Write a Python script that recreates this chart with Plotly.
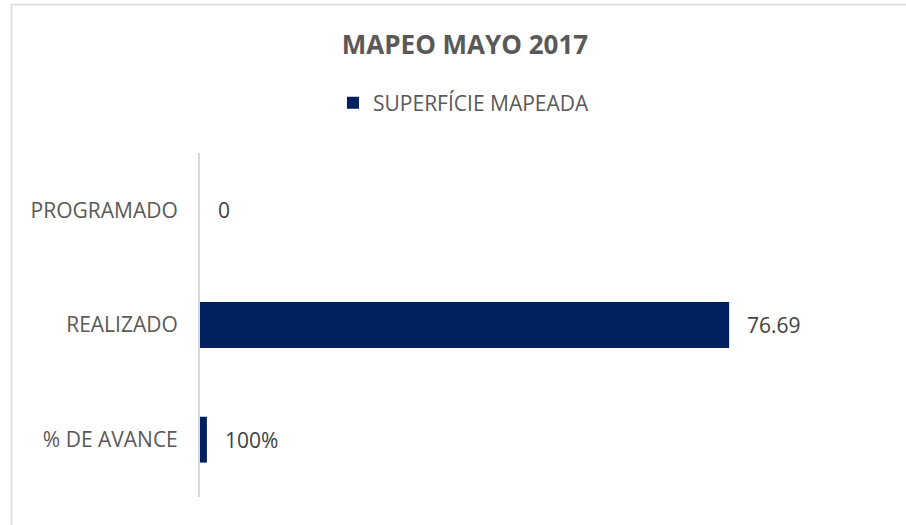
import plotly.graph_objects as go

categories = ["PROGRAMADO", "REALIZADO", "% DE AVANCE"]
values = [0, 76.69, 1]
value_labels = ["0", "76.69", "100%"]
series_name = "SUPERFÍCIE MAPEADA"
title_text = "MAPEO MAYO 2017"

W, H = 906, 525
L, R, T, B = 200, 16, 153, 28
pw, ph = W - L - R, H - T - B

fig = go.Figure()
fig.add_trace(go.Bar(
    y=categories, x=values, orientation="h", name=series_name,
    marker=dict(color="#002060", line=dict(width=0)),
    hoverinfo="x+y",
))

for c, v, t in zip(categories, values, value_labels):
    fig.add_annotation(x=v, y=c, text=t, showarrow=False, xanchor="left",
                       xshift=16, font=dict(family="Open Sans", size=21, color="#404040"))

# outer chart border (partly cropped in reference)
fig.add_shape(type="rect", xref="paper", yref="paper",
              x0=(11.5 - L) / pw, x1=(W + 20 - L) / pw,
              y0=(H - B - (H + 20)) / ph, y1=(H - B - 4.5) / ph,
              line=dict(color="#d9d9d9", width=1.5), fillcolor="rgba(0,0,0,0)", layer="below")

fig.update_layout(
    width=W, height=H,
    margin=dict(l=L, r=R, t=T, b=B),
    paper_bgcolor="white", plot_bgcolor="white",
    font=dict(family="Open Sans", size=21, color="#595959"),
    title=dict(text="<b>" + title_text + "</b>", x=(465) / W, xanchor="center",
               y=1 - 45 / H, yanchor="middle", yref="container",
               font=dict(family="Open Sans", size=26, color="#595959")),
    showlegend=True,
    legend=dict(orientation="h", x=(333 - L) / pw, xanchor="left",
                yref="container", y=1 - 103 / H, yanchor="middle",
                font=dict(family="Open Sans", size=21, color="#595959"),
                bgcolor="rgba(0,0,0,0)"),
    bargap=0.6,
    xaxis=dict(range=[0, 100], showgrid=False, zeroline=False, showticklabels=False,
               showline=False, fixedrange=True),
    yaxis=dict(autorange="reversed", showgrid=False, zeroline=False, showline=True,
               linecolor="#d9d9d9", linewidth=2, ticks="", ticklabelstandoff=16,
               tickfont=dict(family="Open Sans", size=21, color="#595959")),
)

fig.write_html("out.html", config={"displayModeBar": False},
               post_script="document.body.style.margin='0';document.body.style.overflow='hidden';")
